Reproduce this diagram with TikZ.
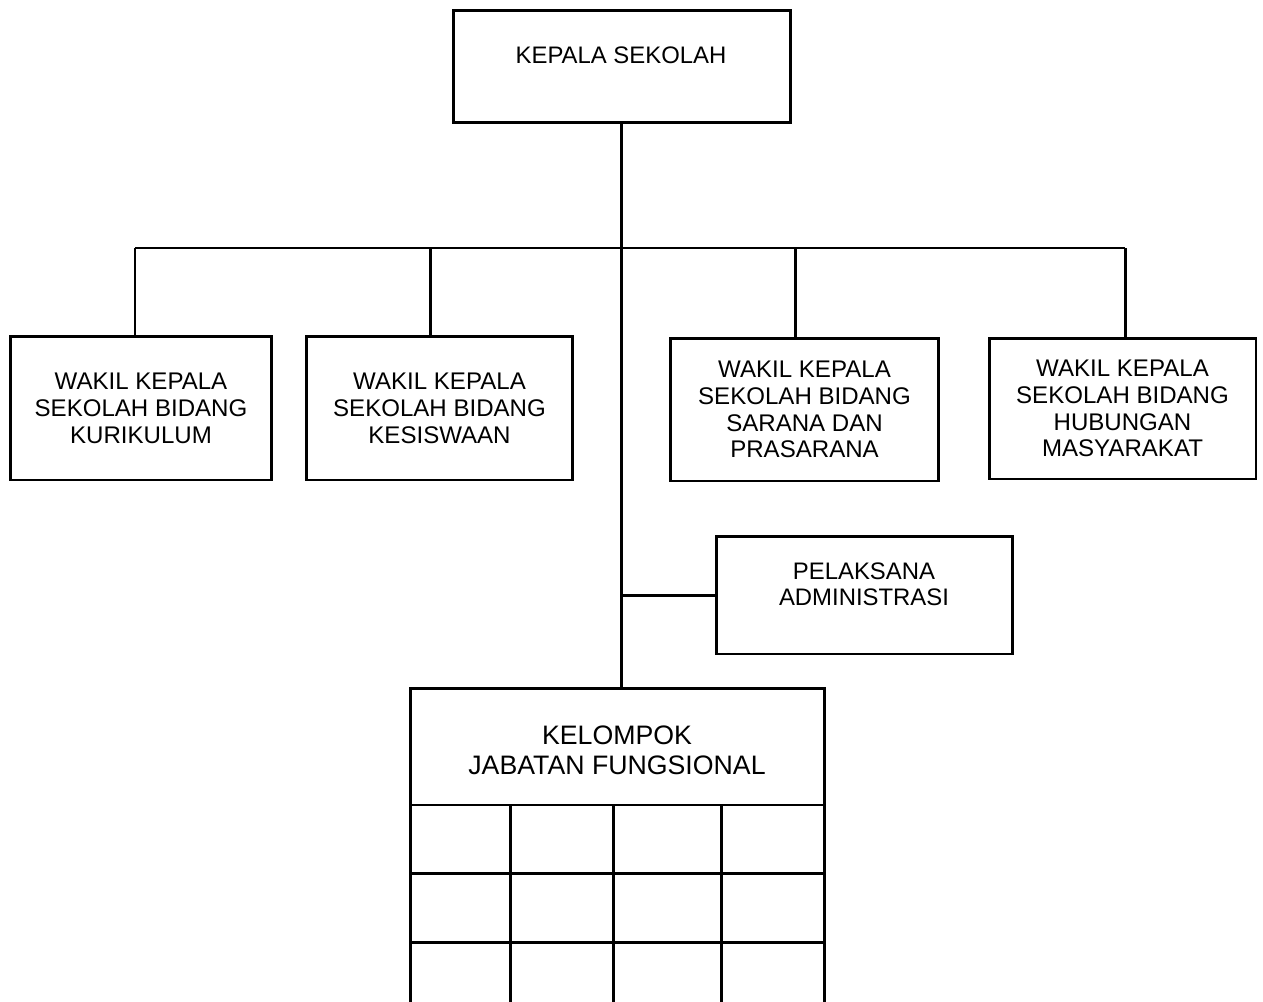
\documentclass[tikz,border=0pt]{standalone}
\usepackage{fontspec}
\setmainfont{Liberation Sans}
\usepackage{tikz}

\tikzset{
    box/.style={draw, black, line width=1.7pt, inner sep=0pt, outer sep=0pt, align=center},
    link/.style={black, line width=1.7pt},
}

\begin{document}
\begin{tikzpicture}[x=0.02cm, y=-0.02cm]
        \useasboundingbox (0,0) rectangle (1263,1001);
        % top
        \node[box, minimum width=6.76cm, minimum height=2.26cm] (kepsek) at (622,66.5) {};
        \node[align=center, font=\fontsize{13.6}{15}\selectfont] (kepsektxt) at (621,55) {KEPALA SEKOLAH};
        % wakil kepala sekolah
        \node[box, minimum width=5.24cm, minimum height=2.88cm, font=\fontsize{13.7}{15.3}\selectfont] (wk1) at (141,408)
                {WAKIL KEPALA\\SEKOLAH BIDANG\\KURIKULUM};
        \node[box, minimum width=5.34cm, minimum height=2.88cm, font=\fontsize{13.7}{15.3}\selectfont] (wk2) at (439.5,408)
                {WAKIL KEPALA\\SEKOLAH BIDANG\\KESISWAAN};
        \node[box, minimum width=5.38cm, minimum height=2.86cm, font=\fontsize{13.7}{15.3}\selectfont] (wk3) at (804.5,409.5)
                {WAKIL KEPALA\\SEKOLAH BIDANG\\SARANA DAN\\PRASARANA};
        \node[box, minimum width=5.34cm, minimum height=2.82cm, font=\fontsize{13.7}{15.3}\selectfont] (wk4) at (1122.5,408.5)
                {WAKIL KEPALA\\SEKOLAH BIDANG\\HUBUNGAN\\MASYARAKAT};
        % pelaksana administrasi
        \node[box, minimum width=5.94cm, minimum height=2.36cm] (pa) at (864.5,595) {};
        \node[align=center, font=\fontsize{13.6}{14.7}\selectfont] (patxt) at (864,584) {PELAKSANA\\ADMINISTRASI};
        % kelompok jabatan fungsional
        \node[box, minimum width=8.3cm, minimum height=2.34cm] (kjf) at (617.5,746.5) {};
        \node[align=center, font=\fontsize{15.2}{17}\selectfont] (kjftxt) at (617,750) {KELOMPOK\\JABATAN FUNGSIONAL};

        % bus
        \coordinate (b1) at (135,248);
        \coordinate (b2) at (430,248);
        \coordinate (b3) at (795,248);
        \coordinate (b4) at (1125,248);
        \draw[link] (b1) -- (b4);
        \draw[link] (b1) -- (b1 |- wk1.north);
        \draw[link] (b2) -- (b2 |- wk2.north);
        \draw[link] (b3) -- (b3 |- wk3.north);
        \draw[link] (b4) -- (b4 |- wk4.north);
        \draw[link] (kepsek.south -| 621,0) -- (kjf.north -| 621,0);
        \draw[link] (pa.west) -- (pa.west -| 621,0);

        % grid
        \draw[link] (kjf.south west) -- ++(0,200);
        \draw[link] (kjf.south east) -- ++(0,200);
        \foreach \gx in {510,613,721}
            \draw[link] (\gx,805) -- (\gx,1005);
        \foreach \gy in {873,942}
            \draw[link] (410,\gy) -- (825,\gy);
    \end{tikzpicture}
\end{document}
